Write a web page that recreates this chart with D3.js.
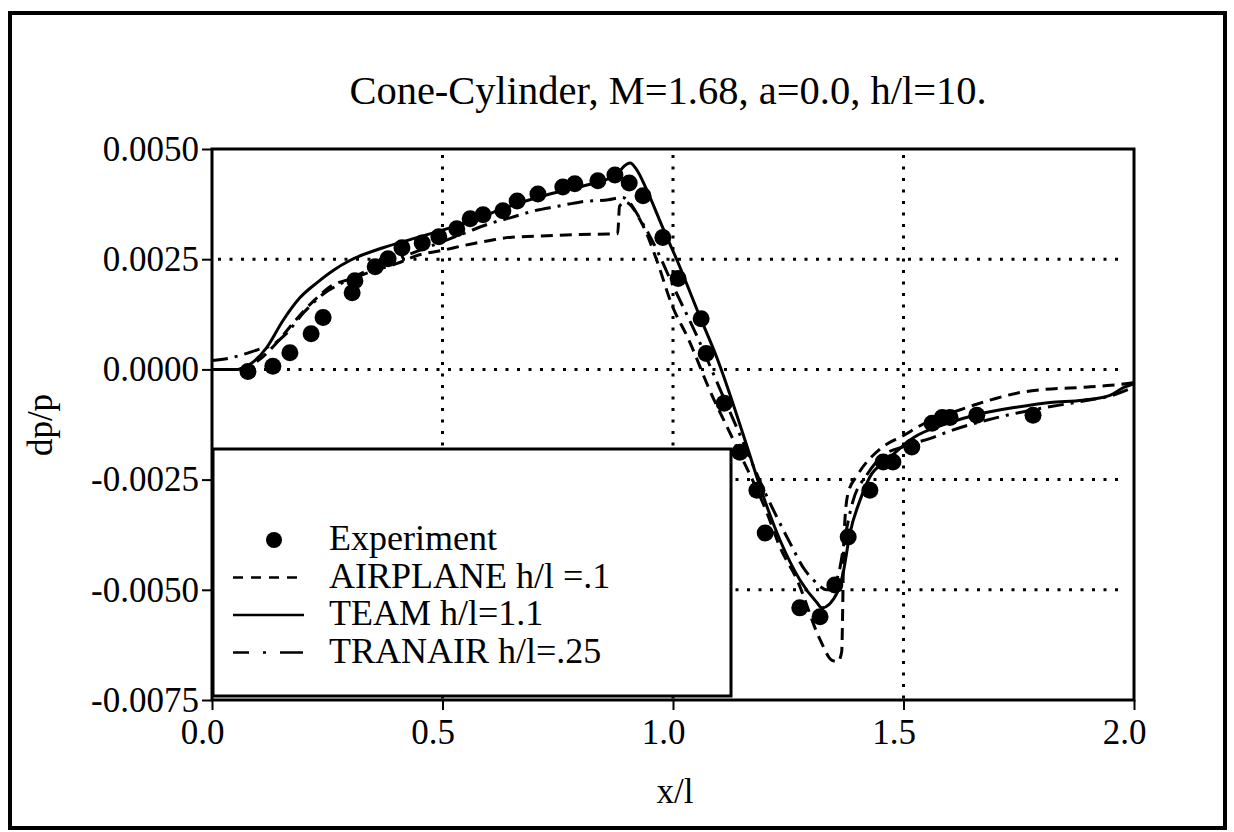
<!DOCTYPE html>
<html>
<head>
<meta charset="utf-8">
<script src="https://cdn.jsdelivr.net/npm/d3@7"></script>
<style>
  body { margin: 0; background: #fff; }
  svg text { font-family: "Liberation Serif", "DejaVu Serif", serif; fill: #000; }
</style>
</head>
<body>
<svg id="chart" width="1234" height="832"></svg>
<script>
var titleText = "Cone-Cylinder, M=1.68, a=0.0, h/l=10.";
var xTicks = [0, 0.5, 1.0, 1.5, 2.0];
var yTicks = [-0.0075, -0.005, -0.0025, 0, 0.0025, 0.005];
var xGrid = [0.5, 1.0, 1.5];
var yGrid = [-0.005, -0.0025, 0, 0.0025];

// measured points (x/l, dp/p)
var experiment = [[0.078,-0.00005],[0.132,0.00007],[0.169,0.00038],[0.215,0.00081],[0.241,0.00118],
  [0.304,0.00174],[0.310,0.00201],[0.354,0.00233],[0.382,0.00251],[0.412,0.00276],[0.456,0.00287],
  [0.492,0.00301],[0.531,0.00319],[0.560,0.00342],[0.588,0.00351],[0.631,0.00360],[0.662,0.00382],
  [0.707,0.00398],[0.761,0.00414],[0.787,0.00421],[0.837,0.00428],[0.874,0.00441],[0.905,0.00423],
  [0.935,0.00394],[0.978,0.00299],[1.011,0.00206],[1.061,0.00115],[1.072,0.00036],[1.111,-0.00077],
  [1.145,-0.00188],[1.182,-0.00274],[1.200,-0.00371],[1.275,-0.00541],[1.319,-0.00561],[1.351,-0.00489],
  [1.380,-0.00380],[1.427,-0.00274],[1.456,-0.00210],[1.477,-0.00210],[1.518,-0.00176],[1.562,-0.00122],
  [1.584,-0.00109],[1.601,-0.00109],[1.659,-0.00104],[1.781,-0.00104]];

var airplane = [[0.06,0.0],[0.1,0.0002],[0.14,0.0006],[0.18,0.0011],[0.22,0.00155],[0.26,0.0019],
  [0.3,0.00205],[0.34,0.0022],[0.4,0.0024],[0.45,0.0026],[0.5,0.0027],[0.55,0.00282],[0.6,0.00292],
  [0.65,0.0030],[0.7,0.00302],[0.75,0.00304],[0.8,0.00306],[0.86,0.00307],[0.880,0.00308],[0.884,0.0037],
  [0.895,0.0038],[0.935,0.00326],[0.965,0.00247],[0.998,0.00145],[1.033,0.0007],[1.080,-0.00048],
  [1.134,-0.00167],[1.204,-0.00326],[1.232,-0.00403],[1.269,-0.00477],[1.319,-0.00613],[1.345,-0.0066],
  [1.358,-0.00663],[1.366,-0.0064],[1.368,-0.0055],[1.370,-0.0041],[1.373,-0.0034],[1.38,-0.0028],
  [1.40,-0.0024],[1.45,-0.0018],[1.5,-0.0015],[1.55,-0.0012],[1.6,-0.001],[1.65,-0.00082],[1.7,-0.00066],
  [1.75,-0.00053],[1.8,-0.00046],[1.9,-0.0004],[1.95,-0.00036],[2.0,-0.0003]];

var team = [[0,0],[0.056,0.0],[0.078,0.00009],[0.093,0.0002],[0.119,0.0005],[0.154,0.00111],[0.191,0.00163],
  [0.228,0.00197],[0.262,0.00224],[0.299,0.00247],[0.371,0.00276],[0.445,0.00299],[0.516,0.00321],
  [0.588,0.00348],[0.662,0.00376],[0.733,0.00398],[0.805,0.00416],[0.879,0.00443],[0.893,0.0046],
  [0.907,0.00468],[0.92,0.00455],[0.944,0.00405],[0.978,0.00321],[1.009,0.00247],[1.059,0.00118],
  [1.095,0.00027],[1.161,-0.00176],[1.189,-0.00267],[1.232,-0.00387],[1.275,-0.00477],[1.312,-0.00529],
  [1.323,-0.00541],[1.356,-0.00507],[1.369,-0.00462],[1.384,-0.00371],[1.406,-0.00296],[1.427,-0.00244],
  [1.464,-0.00206],[1.523,-0.00154],[1.597,-0.00122],[1.670,-0.00100],[1.744,-0.00086],[1.818,-0.00075],
  [1.889,-0.00070],[1.948,-0.00059],[1.978,-0.00041],[2.0,-0.00032]];

var tranair = [[0,0.0002],[0.035,0.00025],[0.065,0.00033],[0.1,0.00045],[0.13,0.00055],[0.16,0.0008],
  [0.2,0.0013],[0.24,0.0017],[0.28,0.00195],[0.35,0.0023],[0.4,0.0025],[0.45,0.0027],[0.5,0.0029],
  [0.55,0.0031],[0.6,0.0033],[0.65,0.00345],[0.7,0.0036],[0.75,0.0037],[0.8,0.0038],[0.86,0.00385],
  [0.89,0.0039],[0.935,0.0033],[0.97,0.0026],[1.0,0.0019],[1.05,0.0008],[1.1,-0.0004],[1.15,-0.0016],
  [1.2,-0.0028],[1.254,-0.00394],[1.286,-0.00455],[1.304,-0.00477],[1.334,-0.0050],[1.348,-0.0049],
  [1.36,-0.0046],[1.375,-0.0037],[1.39,-0.0030],[1.42,-0.0024],[1.45,-0.0020],[1.5,-0.00175],
  [1.56,-0.00156],[1.6,-0.0014],[1.7,-0.0011],[1.8,-0.00088],[1.9,-0.0007],[1.95,-0.0006],[2.0,-0.0004]];

var legendItems = [
  { label: "Experiment", kind: "dot" },
  { label: "AIRPLANE h/l =.1", kind: "line", dash: "10,8" },
  { label: "TEAM h/l=1.1", kind: "line", dash: null },
  { label: "TRANAIR h/l=.25", kind: "line", dash: "16,14,3,14,23,100" }
];

var svg = d3.select("#chart");
// note: "top" is a reserved window global, so use plot* names
var plotL = 212, plotR = 1134, plotT = 149, plotB = 700;

var x = d3.scaleLinear().domain([0, 2]).range([plotL, plotR]);
var y = d3.scaleLinear().domain([-0.0075, 0.005]).range([plotB, plotT]);

// outer frame
svg.append("rect")
  .attr("x", 10).attr("y", 13).attr("width", 1215).attr("height", 815)
  .attr("fill", "#fff").attr("stroke", "#000").attr("stroke-width", 4);

svg.append("text")
  .attr("x", 668).attr("y", 104)
  .attr("text-anchor", "middle")
  .style("font-size", "40.5px")
  .text(titleText);

// dotted grid
svg.selectAll(".vgrid").data(xGrid).enter().append("line")
  .attr("class", "vgrid")
  .attr("x1", function (d) { return x(d); }).attr("x2", function (d) { return x(d); })
  .attr("y1", plotT + 6).attr("y2", plotB)
  .attr("stroke", "#000").attr("stroke-width", 3).attr("stroke-dasharray", "3,8.5");
svg.selectAll(".hgrid").data(yGrid).enter().append("line")
  .attr("class", "hgrid")
  .attr("x1", plotL + 6).attr("x2", plotR - 16)
  .attr("y1", function (d) { return y(d); }).attr("y2", function (d) { return y(d); })
  .attr("stroke", "#000").attr("stroke-width", 3).attr("stroke-dasharray", "3,8.5");

// axes
var xAxis = svg.append("g")
  .attr("transform", "translate(0," + plotB + ")")
  .call(d3.axisBottom(x).tickValues(xTicks).tickSize(10).tickPadding(9)
    .tickFormat(function (d) { return d.toFixed(1); }));
var yAxis = svg.append("g")
  .attr("transform", "translate(" + plotL + ",0)")
  .call(d3.axisLeft(y).tickValues(yTicks).tickSize(10).tickPadding(3)
    .tickFormat(function (d) { return d.toFixed(4); }));
[xAxis, yAxis].forEach(function (a) {
  a.select(".domain").remove();
  a.selectAll(".tick line").attr("stroke", "#000").attr("stroke-width", 2);
  a.selectAll(".tick text").style("font-size", "35px").style("font-family", "Liberation Serif");
});
xAxis.selectAll(".tick text").attr("dx", "-10");

// model curves
var line = d3.line()
  .x(function (d) { return x(d[0]); })
  .y(function (d) { return y(d[1]); })
  .curve(d3.curveMonotoneX);

svg.append("path").datum(airplane)
  .attr("d", line).attr("fill", "none").attr("stroke", "#000")
  .attr("stroke-width", 3).attr("stroke-dasharray", "12,7");
svg.append("path").datum(tranair)
  .attr("d", line).attr("fill", "none").attr("stroke", "#000")
  .attr("stroke-width", 3).attr("stroke-dasharray", "16,7,3,7");
svg.append("path").datum(team)
  .attr("d", line).attr("fill", "none").attr("stroke", "#000")
  .attr("stroke-width", 3);

svg.selectAll(".exp").data(experiment).enter().append("circle")
  .attr("class", "exp")
  .attr("cx", function (d) { return x(d[0]); })
  .attr("cy", function (d) { return y(d[1]); })
  .attr("r", 8.5)
  .attr("fill", "#000");

// plot border
svg.append("rect")
  .attr("x", plotL).attr("y", plotT).attr("width", plotR - plotL).attr("height", plotB - plotT)
  .attr("fill", "none").attr("stroke", "#000").attr("stroke-width", 3);

// legend box
var legend = svg.append("g");
legend.append("rect")
  .attr("x", 213).attr("y", 449).attr("width", 518).attr("height", 247)
  .attr("fill", "#fff").attr("stroke", "#000").attr("stroke-width", 3);

legendItems.forEach(function (item, i) {
  var base = 550 + i * 37.5;
  if (item.kind == "dot") {
    legend.append("circle").attr("cx", 274).attr("cy", base - 10).attr("r", 8).attr("fill", "#000");
  } else {
    legend.append("line")
      .attr("x1", 233).attr("x2", 304).attr("y1", base - 10).attr("y2", base - 10)
      .attr("stroke", "#000").attr("stroke-width", 2.5)
      .attr("stroke-dasharray", item.dash);
  }
  legend.append("text")
    .attr("x", 329).attr("y", base)
    .style("font-size", "36px")
    .text(item.label);
});

// axis titles
svg.append("text")
  .attr("x", 675).attr("y", 803)
  .attr("text-anchor", "middle")
  .style("font-size", "35px")
  .text("x/l");
svg.append("text")
  .attr("transform", "translate(52,425) rotate(-90)")
  .attr("text-anchor", "middle")
  .style("font-size", "35px")
  .text("dp/p");
</script>
</body>
</html>
